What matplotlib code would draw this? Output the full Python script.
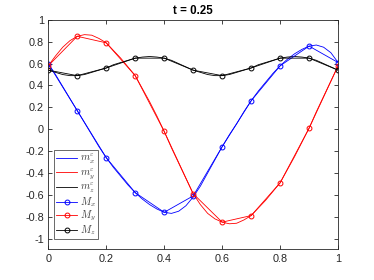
import matplotlib
matplotlib.use("Agg")
import matplotlib.pyplot as plt
import numpy as np

plt.rcParams['font.family'] = ['Liberation Sans', 'DejaVu Sans']
plt.rcParams['mathtext.fontset'] = 'cm'

# coarse grid values (M)
x_coarse = [0.0, 0.1, 0.2, 0.3, 0.4, 0.5, 0.6, 0.7, 0.8, 0.9, 1.0]
M_x = [0.60, 0.17, -0.26, -0.58, -0.76, -0.61, -0.16, 0.26, 0.58, 0.76, 0.61]
M_y = [0.58, 0.85, 0.79, 0.49, -0.02, -0.59, -0.85, -0.79, -0.49, 0.01, 0.58]
M_z = [0.54, 0.49, 0.56, 0.65, 0.65, 0.54, 0.49, 0.56, 0.65, 0.65, 0.54]

# fine solution (m^eps), read every 0.025
x_fine = [0.000, 0.025, 0.050, 0.075, 0.100, 0.125, 0.150, 0.175, 0.200, 0.225,
          0.250, 0.275, 0.300, 0.325, 0.350, 0.375, 0.400, 0.425, 0.450, 0.475,
          0.500, 0.525, 0.550, 0.575, 0.600, 0.625, 0.650, 0.675, 0.700, 0.725,
          0.750, 0.775, 0.800, 0.825, 0.850, 0.875, 0.900, 0.925, 0.950, 0.975, 1.000]
m_x = [0.60, 0.50, 0.39, 0.28, 0.17, 0.06, -0.05, -0.16, -0.26, -0.35,
       -0.43, -0.51, -0.58, -0.64, -0.69, -0.73, -0.76, -0.77, -0.75, -0.70,
       -0.62, -0.52, -0.40, -0.28, -0.16, -0.05, 0.05, 0.16, 0.26, 0.35,
       0.43, 0.51, 0.58, 0.64, 0.69, 0.73, 0.76, 0.77, 0.75, 0.70, 0.61]
m_y = [0.58, 0.67, 0.75, 0.81, 0.85, 0.865, 0.86, 0.83, 0.79, 0.72,
       0.65, 0.57, 0.49, 0.37, 0.25, 0.12, -0.02, -0.17, -0.31, -0.45,
       -0.59, -0.69, -0.77, -0.82, -0.85, -0.865, -0.86, -0.83, -0.79, -0.72,
       -0.65, -0.57, -0.49, -0.37, -0.25, -0.12, 0.01, 0.16, 0.30, 0.44, 0.58]
m_z = [0.54, 0.52, 0.50, 0.49, 0.49, 0.50, 0.52, 0.54, 0.56, 0.59,
       0.61, 0.63, 0.65, 0.66, 0.665, 0.66, 0.65, 0.63, 0.60, 0.57,
       0.54, 0.52, 0.50, 0.49, 0.49, 0.50, 0.52, 0.54, 0.56, 0.59,
       0.61, 0.63, 0.65, 0.66, 0.665, 0.66, 0.65, 0.63, 0.60, 0.57, 0.54]

fig = plt.figure(figsize=(3.74, 2.8), dpi=100)
ax = fig.add_axes([0.129, 0.109, 0.775, 0.82])

lw = 0.6
ax.plot(x_fine, m_x, color='blue', lw=lw, label=r'$m_x^\varepsilon$')
ax.plot(x_fine, m_y, color='red', lw=lw, label=r'$m_y^\varepsilon$')
ax.plot(x_fine, m_z, color='black', lw=lw, label=r'$m_z^\varepsilon$')
mk = dict(marker='o', markersize=3.5, markerfacecolor='none', markeredgewidth=0.7, lw=lw)
ax.plot(x_coarse, M_x, color='blue', label=r'$M_x$', **mk)
ax.plot(x_coarse, M_y, color='red', label=r'$M_y$', **mk)
ax.plot(x_coarse, M_z, color='black', label=r'$M_z$', **mk)

ax.set_xlim(0, 1)
ax.set_ylim(-1.1, 1)
ax.set_xticks([0, 0.2, 0.4, 0.6, 0.8, 1])
ax.set_xticklabels(['0', '0.2', '0.4', '0.6', '0.8', '1'])
ax.set_yticks([-1, -0.8, -0.6, -0.4, -0.2, 0, 0.2, 0.4, 0.6, 0.8, 1])
ax.set_yticklabels(['-1', '-0.8', '-0.6', '-0.4', '-0.2', '0', '0.2', '0.4', '0.6', '0.8', '1'])
ax.tick_params(direction='in', top=True, right=True, length=3, width=0.6,
               labelsize=7.8, colors='#262626', pad=3)
for s in ax.spines.values():
    s.set_linewidth(0.6)
    s.set_color('#262626')

ax.set_title('t = 0.25', fontsize=8.3, fontweight='bold', pad=4)

leg = ax.legend(loc='lower left', bbox_to_anchor=(0.02, 0.045), fontsize=7.5,
                frameon=True, fancybox=False, edgecolor='#262626',
                handlelength=2.0, handletextpad=0.3, labelspacing=0.0,
                borderpad=0.2, borderaxespad=0.0, markerfirst=True)
leg.get_frame().set_linewidth(0.6)
for t in leg.get_texts():
    t.set_color('#404040')

fig.savefig('out.png', dpi=100)
